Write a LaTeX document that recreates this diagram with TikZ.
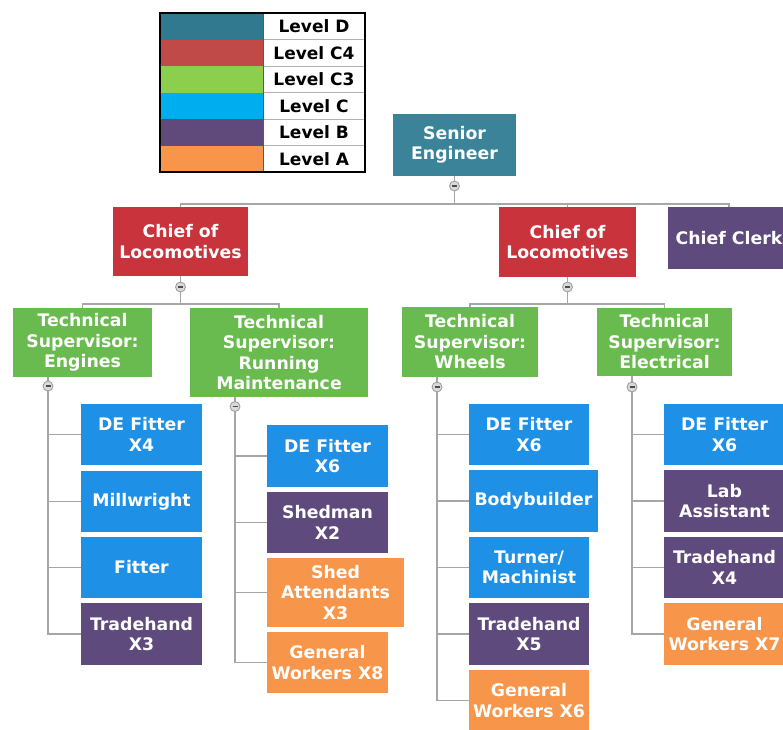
\documentclass[tikz,border=0pt]{standalone}
\usepackage{fontspec}
\setmainfont{DejaVu Sans}
\definecolor{cD}{HTML}{3A8399}
\definecolor{cCfour}{HTML}{C9343C}
\definecolor{cCthree}{HTML}{6ABB4F}
\definecolor{cC}{HTML}{1E90E6}
\definecolor{cB}{HTML}{5E4A7C}
\definecolor{cA}{HTML}{F7964B}
\definecolor{lD}{HTML}{31798F}
\definecolor{lCfour}{HTML}{C04A48}
\definecolor{lCthree}{HTML}{8CCF4D}
\definecolor{lC}{HTML}{00AEEF}
\definecolor{lB}{HTML}{5F4A7B}
\definecolor{lA}{HTML}{F7954A}
\definecolor{lineg}{HTML}{A6A6A6}
\tikzset{
  box/.style={rectangle, inner sep=1pt, align=center, text=white,
    font=\bfseries\fontsize{17.3}{20.5}\selectfont},
  conn/.style={draw=lineg, line width=1.5pt},
  minus/.style={circle, minimum size=10pt, inner sep=0pt, draw=gray!80, fill=gray!30, line width=0.8pt,
    path picture={\draw[line width=1.3pt, black!70] ([xshift=-2.5pt]path picture bounding box.center) -- ([xshift=2.5pt]path picture bounding box.center);}},
  legcell/.style={rectangle, inner sep=0pt, minimum width=103pt, minimum height=26.5pt},
  legtext/.style={rectangle, inner sep=0pt, minimum width=102pt, minimum height=26.5pt, text=black,
    font=\bfseries\fontsize{17}{19}\selectfont},
}
\begin{document}
\begin{tikzpicture}[x=1pt,y=-1pt]
\useasboundingbox (0,0) rectangle (783,729);
\fill[white] (0,0) rectangle (783,729);

% ---------- legend ----------
\node[legcell, fill=lD]      (lg1) at (211.5,26.25) {};
\node[legcell, fill=lCfour]  (lg2) at (211.5,52.75) {};
\node[legcell, fill=lCthree] (lg3) at (211.5,79.25) {};
\node[legcell, fill=lC]      (lg4) at (211.5,105.75) {};
\node[legcell, fill=lB]      (lg5) at (211.5,132.25) {};
\node[legcell, fill=lA]      (lg6) at (211.5,158.75) {};
\node[legtext] (lt1) at (314,26.25) {Level D};
\node[legtext] (lt2) at (314,52.75) {Level C4};
\node[legtext] (lt3) at (314,79.25) {Level C3};
\node[legtext] (lt4) at (314,105.75) {Level C};
\node[legtext] (lt5) at (314,132.25) {Level B};
\node[legtext] (lt6) at (314,158.75) {Level A};
\foreach \y in {39.5,66,92.5,119,145.5}{\draw[gray!60, line width=1pt] (263,\y) -- (365,\y);}
\draw[gray!70!black, line width=1pt] (263,13) -- (263,172);
\draw[black, line width=1.5pt] (160,13) rectangle (365,172);

% ---------- nodes ----------
\node[box, fill=cD, minimum width=123pt, minimum height=62pt] (se) at (454.5,145) {Senior\\Engineer};
\node[box, fill=cCfour, minimum width=135pt, minimum height=69pt] (cl1) at (180.5,241.5) {Chief of\\Locomotives};
\node[box, fill=cCfour, minimum width=137pt, minimum height=70pt] (cl2) at (567.5,242) {Chief of\\Locomotives};
\node[box, fill=cB, minimum width=122pt, minimum height=62pt] (cc) at (729,238) {Chief Clerk};

\node[box, fill=cCthree, minimum width=139pt, minimum height=69pt] (tse) at (82.5,342.5) {Technical\\Supervisor:\\Engines};
\node[box, fill=cCthree, minimum width=178pt, minimum height=89pt] (tsr) at (279,352.5) {Technical\\Supervisor:\\Running\\Maintenance};
\node[box, fill=cCthree, minimum width=136pt, minimum height=70pt] (tsw) at (470,342) {Technical\\Supervisor:\\Wheels};
\node[box, fill=cCthree, minimum width=135pt, minimum height=68pt] (tsl) at (664.5,342) {Technical\\Supervisor:\\Electrical};

% Engines children
\node[box, fill=cC, minimum width=121pt, minimum height=61pt] (e1) at (141.5,434.5) {DE Fitter\\X4};
\node[box, fill=cC, minimum width=121pt, minimum height=61pt] (e2) at (141.5,501.5) {Millwright};
\node[box, fill=cC, minimum width=121pt, minimum height=61pt] (e3) at (141.5,567.5) {Fitter};
\node[box, fill=cB, minimum width=121pt, minimum height=62pt] (e4) at (141.5,634) {Tradehand\\X3};

% Running maintenance children
\node[box, fill=cC, minimum width=121pt, minimum height=62pt] (r1) at (327.5,456) {DE Fitter\\X6};
\node[box, fill=cB, minimum width=121pt, minimum height=61pt] (r2) at (327.5,522.5) {Shedman\\X2};
\node[box, fill=cA, minimum width=137pt, minimum height=69pt] (r3) at (335.5,592.5) {Shed\\Attendants\\X3};
\node[box, fill=cA, minimum width=121pt, minimum height=61pt] (r4) at (327.5,662.5) {General\\Workers X8};

% Wheels children
\node[box, fill=cC, minimum width=120pt, minimum height=61pt] (w1) at (529,434.5) {DE Fitter\\X6};
\node[box, fill=cC, minimum width=129pt, minimum height=62pt] (w2) at (533.5,501) {Bodybuilder};
\node[box, fill=cC, minimum width=120pt, minimum height=61pt] (w3) at (529,567.5) {Turner/\\Machinist};
\node[box, fill=cB, minimum width=120pt, minimum height=62pt] (w4) at (529,634) {Tradehand\\X5};
\node[box, fill=cA, minimum width=120pt, minimum height=61pt] (w5) at (529,700.5) {General\\Workers X6};

% Electrical children
\node[box, fill=cC, minimum width=121pt, minimum height=61pt] (l1) at (724.5,434.5) {DE Fitter\\X6};
\node[box, fill=cB, minimum width=121pt, minimum height=62pt] (l2) at (724.5,501) {Lab\\Assistant};
\node[box, fill=cB, minimum width=121pt, minimum height=61pt] (l3) at (724.5,567.5) {Tradehand\\X4};
\node[box, fill=cA, minimum width=121pt, minimum height=62pt] (l4) at (724.5,634) {General\\Workers X7};

% ---------- collapse circles ----------
\coordinate (pse) at (454.5,186);
\coordinate (pc1) at (180.5,287);
\coordinate (pc2) at (567.5,287);
\coordinate (pe) at (48,386);
\coordinate (pr) at (235,406.5);
\coordinate (pw) at (437,387);
\coordinate (pl) at (632,387);

\coordinate (h0) at (454.5,204);
\coordinate (h1) at (180.5,304);
\coordinate (h2) at (567.5,304);

% ---------- connectors ----------
\draw[conn] (se.south) -- (pse) -- (h0);
\draw[conn] (cl1.north) -- (cl1.north |- h0) -- (cc.north |- h0) -- (cc.north);
\draw[conn] (cl2.north) -- (cl2.north |- h0);

\draw[conn] (cl1.south) -- (pc1) -- (h1);
\draw[conn] (tse.north) -- (tse.north |- h1) -- (tsr.north |- h1) -- (tsr.north);
\draw[conn] (cl2.south) -- (pc2) -- (h2);
\draw[conn] (tsw.north) -- (tsw.north |- h2) -- (tsl.north |- h2) -- (tsl.north);

\draw[conn] (pe |- tse.south) -- (pe);
\foreach \c in {e1,e2,e3,e4}{\draw[conn] (pe) |- (\c.west);}
\draw[conn] (pr |- tsr.south) -- (pr);
\foreach \c in {r1,r2,r3,r4}{\draw[conn] (pr) |- (\c.west);}
\draw[conn] (pw |- tsw.south) -- (pw);
\foreach \c in {w1,w2,w3,w4,w5}{\draw[conn] (pw) |- (\c.west);}
\draw[conn] (pl |- tsl.south) -- (pl);
\foreach \c in {l1,l2,l3,l4}{\draw[conn] (pl) |- (\c.west);}

\node[minus] (mse) at (pse) {};
\node[minus] (mc1) at (pc1) {};
\node[minus] (mc2) at (pc2) {};
\node[minus] (me) at (pe) {};
\node[minus] (mr) at (pr) {};
\node[minus] (mw) at (pw) {};
\node[minus] (ml) at (pl) {};
\end{tikzpicture}
\end{document}
